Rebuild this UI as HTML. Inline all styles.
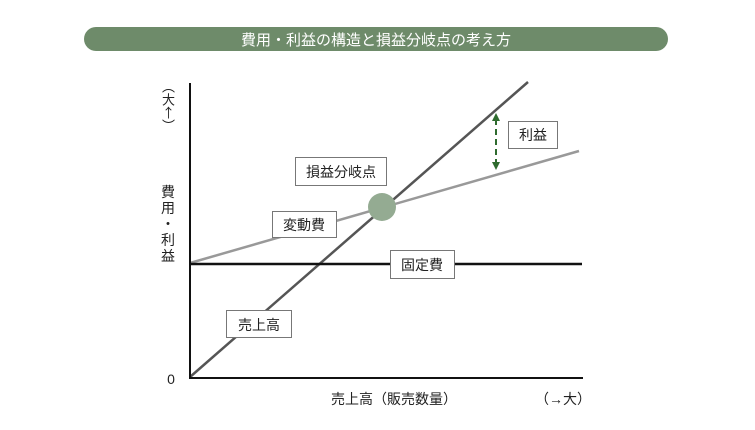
<!DOCTYPE html>
<html><head><meta charset="utf-8"><style>
body{margin:0;background:#fff;width:755px;height:430px;overflow:hidden;font-family:"Liberation Sans","Noto Sans CJK JP",sans-serif;position:relative}
.v{position:absolute;left:160px;top:80px;writing-mode:vertical-rl;text-orientation:upright;font-size:13px;line-height:16px;color:#222;font-family:"Noto Sans CJK JP",sans-serif}
</style></head><body>
<svg width="755" height="430" xmlns="http://www.w3.org/2000/svg" font-family="Liberation Sans, Noto Sans CJK JP, sans-serif" style="position:absolute;left:0;top:0">
<rect x="84" y="27" width="584" height="24" rx="12" fill="#6e8b6a"/>
<text x="376" y="45" font-size="15" fill="#fff" text-anchor="middle">費用・利益の構造と損益分岐点の考え方</text>
<line x1="190" y1="377" x2="528" y2="82" stroke="#555" stroke-width="2.5"/>
<line x1="190" y1="263" x2="579" y2="151" stroke="#999" stroke-width="2.5"/>
<line x1="190" y1="264" x2="582" y2="264" stroke="#111" stroke-width="2.5"/>
<line x1="190" y1="83" x2="190" y2="379" stroke="#111" stroke-width="2"/>
<line x1="189" y1="378" x2="583" y2="378" stroke="#111" stroke-width="2"/>
<circle cx="382" cy="207" r="14" fill="#94ab92"/>
<line x1="496" y1="119" x2="496" y2="165" stroke="#2e6b2e" stroke-width="2" stroke-dasharray="6,4"/>
<polygon points="496,113 492,121 500,121" fill="#2e6b2e"/>
<polygon points="496,170 492,162 500,162" fill="#2e6b2e"/>
<g fill="#fff" stroke="#777" stroke-width="1">
<rect x="508.5" y="121.5" width="49" height="27"/>
<rect x="295.5" y="157.5" width="91" height="28"/>
<rect x="272.5" y="211.5" width="64" height="26"/>
<rect x="390.5" y="250.5" width="64" height="28"/>
<rect x="226.5" y="310.5" width="65" height="27"/>
</g>
<g font-size="14" fill="#222" text-anchor="middle">
<text x="533" y="140">利益</text>
<text x="341" y="177">損益分岐点</text>
<text x="304" y="230">変動費</text>
<text x="422" y="270">固定費</text>
<text x="259" y="330">売上高</text>
<text x="394" y="404">売上高（販売数量）</text>
<text x="563" y="404">（→大）</text>
<text x="171" y="384">0</text>
</g>
<g font-size="14" fill="#222" text-anchor="middle">
<text x="168" y="197">費</text>
<text x="168" y="213">用</text>
<text x="168" y="229">・</text>
<text x="168" y="245">利</text>
<text x="168" y="261">益</text>
</g>
</svg>
<div class="v">（大↑）</div>
</body></html>
